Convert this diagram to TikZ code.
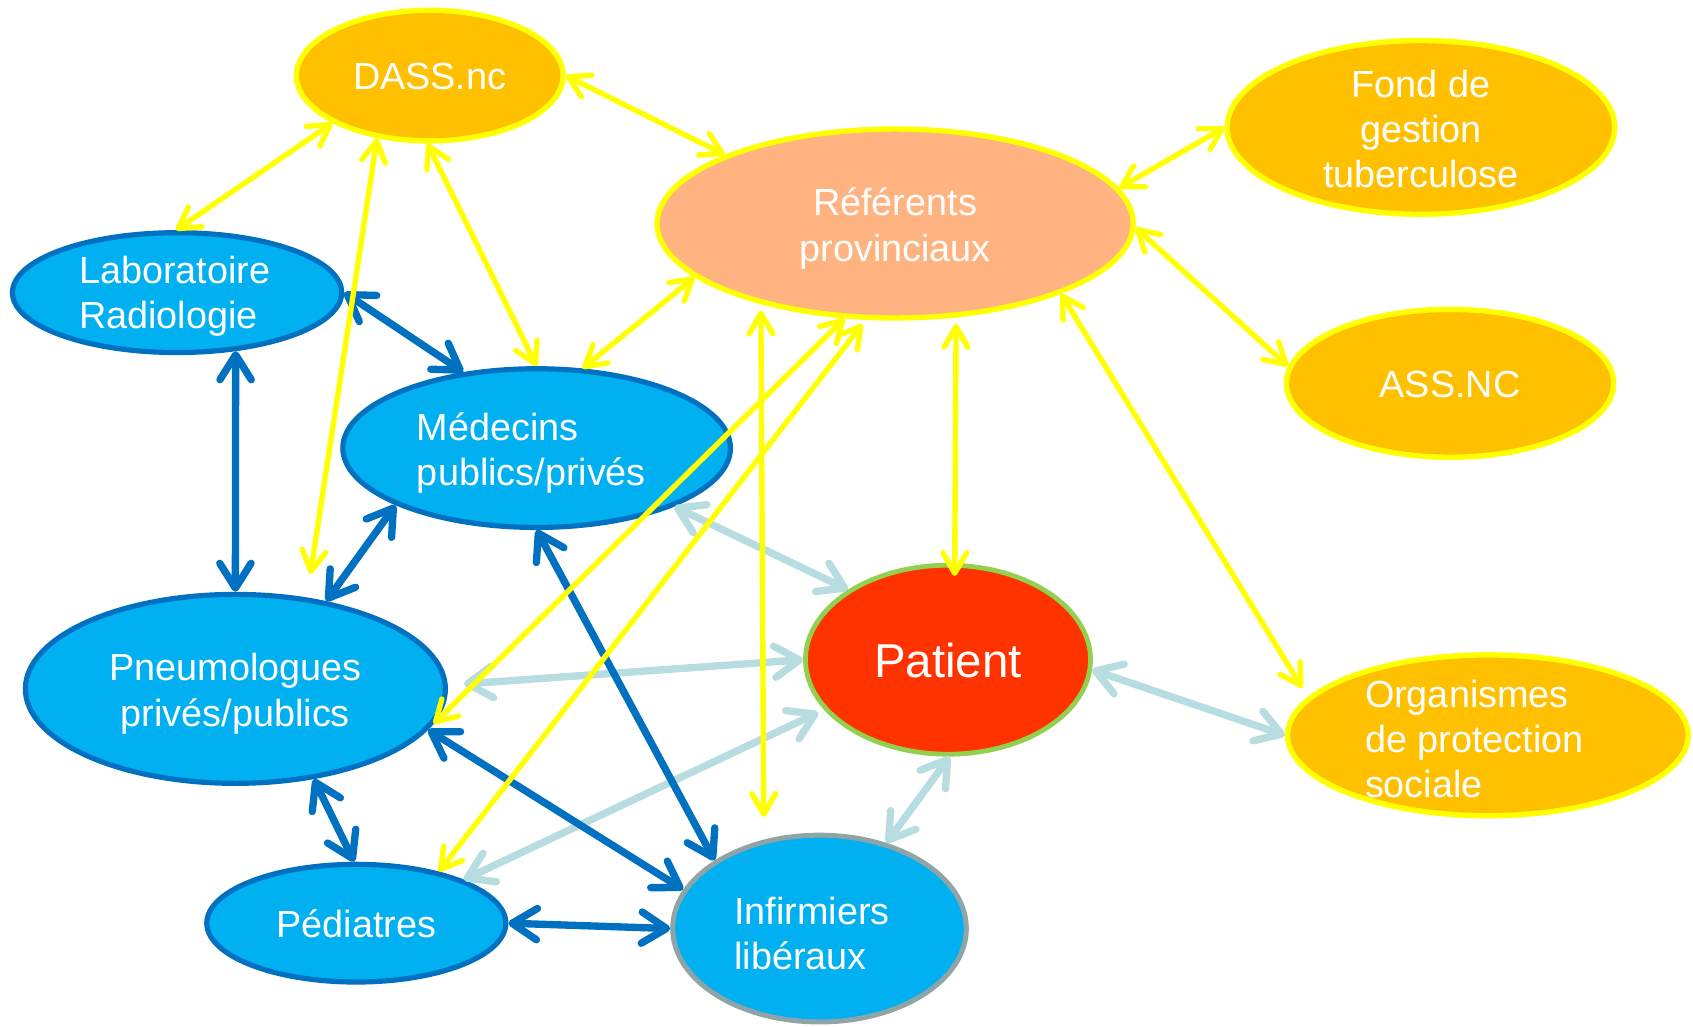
\documentclass[tikz,border=0pt]{standalone}
\usepackage{fontspec}
\setmainfont{Liberation Sans}
\usetikzlibrary{shapes.geometric,arrows.meta}
\definecolor{cOr}{HTML}{FFC000}
\definecolor{cYl}{HTML}{FFFF00}
\definecolor{cPe}{HTML}{FFB380}
\definecolor{cBl}{HTML}{00B0F0}
\definecolor{cBd}{HTML}{0070C0}
\definecolor{cLb}{HTML}{B7DDE1}
\definecolor{cRd}{HTML}{FF3300}
\definecolor{cGn}{HTML}{92D050}
\definecolor{cGy}{HTML}{8FA4A7}
\tikzset{
  shp/.style={ellipse, inner sep=0pt},
  orgbox/.style={shp, fill=cOr, draw=cYl, line width=5pt},
  refbox/.style={shp, fill=cPe, draw=cYl, line width=5pt},
  blubox/.style={shp, fill=cBl, draw=cBd, line width=4.8pt},
  infbox/.style={shp, fill=cBl, draw=cGy, line width=4.6pt},
  patbox/.style={shp, fill=cRd, draw=cGn, line width=4.4pt},
  txt/.style={text=white, inner sep=0pt, font=\fontsize{35}{42}\selectfont},
  yl/.style={draw=cYl, line width=5pt, line cap=round, >={Straight Barb[length=19pt,width=22pt,round]}, <->},
  bl/.style={draw=cBd, line width=6.8pt, line cap=round, >={Straight Barb[length=23pt,width=29pt,round]}, <->},
  lb/.style={draw=cLb, line width=6.8pt, line cap=round, >={Straight Barb[length=23pt,width=29pt,round]}, <->},
}
\begin{document}
\begin{tikzpicture}[x=1pt,y=-1pt]
\useasboundingbox (0,0) rectangle (1568,951);
% nodes
\node[orgbox, minimum width=247pt, minimum height=121pt] (dass) at (398,70) {};
\node[refbox, minimum width=441pt, minimum height=175pt] (ref) at (829,207) {};
\node[orgbox, minimum width=359pt, minimum height=161pt] (fond) at (1316,118) {};
\node[orgbox, minimum width=303pt, minimum height=137pt] (ass) at (1343,355) {};
\node[orgbox, minimum width=371pt, minimum height=149pt] (org) at (1378,681) {};
\node[blubox, minimum width=305pt, minimum height=111pt] (lab) at (164,271) {};
\node[blubox, minimum width=359pt, minimum height=147pt] (med) at (497,415) {};
\node[blubox, minimum width=389pt, minimum height=175pt] (pneu) at (218,638) {};
\node[blubox, minimum width=277pt, minimum height=109pt] (ped) at (330,855) {};
\node[infbox, minimum width=272pt, minimum height=173pt] (inf) at (759,860) {};
\node[patbox, minimum width=264pt, minimum height=175pt] (pat) at (878,611) {};
% texts
\node[txt] (dassT) at (398,71) {DASS.nc};
\node[txt, align=center] (refT) at (829,211.5) {Référents\\provinciaux};
\node[txt, align=center] (fondT) at (1316,119.5) {Fond de\\gestion\\tuberculose};
\node[txt] (assT) at (1343,356) {ASS.NC};
\node[txt, align=left, anchor=west] (orgT) at (1264,684.5) {Organismes\\de protection\\sociale};
\node[txt, align=left, anchor=west] (labT) at (73,274.5) {Laboratoire\\Radiologie};
\node[txt, align=left, anchor=west] (medT) at (386,419.5) {Médecins\\publics/privés};
\node[txt, align=center] (pneuT) at (218,642.5) {Pneumologues\\privés/publics};
\node[txt] (pedT) at (330,856) {Pédiatres};
\node[txt, align=left, anchor=west] (infT) at (680,864.5) {Infirmiers\\libéraux};
\node[txt, font=\fontsize{44}{50}\selectfont] (patT) at (878,612) {Patient};
% light blue connectors
\draw[lb] (med.337) -- (pat.145);
\draw[lb, shorten <=15pt] (pneu.1.5) -- (pat.180);
\draw[lb, shorten >=6pt] (ped.22) -- (pat.202);
\draw[lb] (pat.356) -- (org.180);
\draw[lb] (pat.271) -- (inf.52);
% blue connectors
\draw[bl] (lab.0) -- (med.134);
\draw[bl] (lab.315) -- (pneu.90);
\draw[bl] (med.202) -- (pneu.44);
\draw[bl] (med.270) -- (inf.147);
\draw[bl] (pneu.348) -- (inf.164);
\draw[bl] (pneu.311) -- (ped.92);
\draw[bl] (ped.0) -- (inf.180);
% yellow connectors
\draw[yl] (dass.206) -- (lab.91);
\draw[yl, shorten >=22pt] (dass.230) -- (pneu.52);
\draw[yl] (dass.268) -- (med.90);
\draw[yl] (dass.0) -- (ref.158);
\draw[yl] (ref.195) -- (med.60);
\draw[yl] (ref.9) -- (fond.180);
\draw[yl] (ref.359) -- (ass.174);
\draw[yl, shorten >=10pt] (ref.337) -- (org.168);
\draw[yl, shorten <=6pt, shorten >=-12pt] (ref.303) -- (pat.86);
\draw[yl, shorten <=6pt, shorten >=21pt] (ref.211) -- (inf.122);
\draw[yl] (ref.242) -- (pneu.350);
\draw[yl, shorten <=5pt] (ref.253) -- (ped.32);
\end{tikzpicture}
\end{document}
